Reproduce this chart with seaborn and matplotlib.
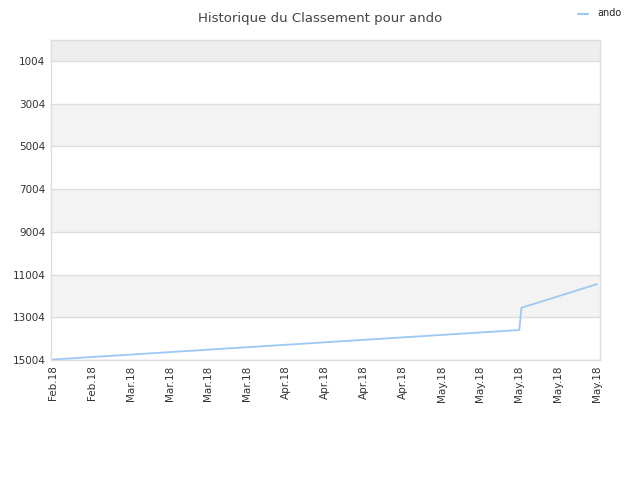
import pandas as pd
import seaborn as sns
import matplotlib.pyplot as plt
import matplotlib.dates as mdates

dates = ["2018-02-21 00:00", "2018-03-21 00:00", "2018-04-18 00:00",
         "2018-05-16 00:00", "2018-05-16 09:00", "2018-05-30 00:00"]
ranks = [14980, 14520, 14060, 13600, 12560, 11450]
player = "ando"
y_ticks = [1004, 3004, 5004, 7004, 9004, 11004, 13004, 15004]
tick_dates = pd.date_range("2018-02-21", "2018-05-30", freq="7D")

df = pd.DataFrame({"date": pd.to_datetime(dates, format="%Y-%m-%d %H:%M"),
                   "rank": ranks, "player": player})

sns.set_style("white")
plt.rcParams["font.family"] = ["DejaVu Sans"]

fig = plt.figure(figsize=(6.4, 4.8), dpi=100)
ax = fig.add_axes([51 / 640, 120 / 480, 549 / 640, 320 / 480])

# alternating bands
ax.axhspan(20, 1004, color="#eeeeee", zorder=0, lw=0)
for i in range(len(y_ticks) - 1):
    if i % 2 == 1:
        ax.axhspan(y_ticks[i], y_ticks[i + 1], color="#f3f3f3", zorder=0, lw=0)

sns.lineplot(data=df, x="date", y="rank", hue="player", palette=["#9cc8f4"],
             linewidth=1.3, ax=ax, legend=False, zorder=3)

ax.set_ylim(15004, 20)
ax.set_yticks(y_ticks)
ax.set_yticklabels([str(t) for t in y_ticks])
ax.set_xlim(pd.Timestamp("2018-02-20 15:00"), pd.Timestamp("2018-05-30 13:00"))
ax.set_xticks(tick_dates)
ax.xaxis.set_major_formatter(mdates.DateFormatter("%b.%y"))
plt.setp(ax.get_xticklabels(), rotation=90)

for t in y_ticks:
    ax.axhline(t, color="#dddddd", lw=1, zorder=1)

ax.tick_params(axis="both", length=0, labelsize=7.5, labelcolor="#333333", pad=4)
for s in ax.spines.values():
    s.set_color("#dddddd")
    s.set_linewidth(1)

ax.set_xlabel("")
ax.set_ylabel("")
fig.text(0.5, 0.975, "Historique du Classement pour ando", ha="center", va="top",
         fontsize=9.5, color="#444444")

# legend
fig.lines.append(plt.Line2D([578 / 640, 588 / 640], [1 - 14 / 480, 1 - 14 / 480],
                            color="#9cc8f4", lw=1.5, transform=fig.transFigure))
fig.text(597 / 640, 1 - 13 / 480, player, ha="left", va="center", fontsize=7, color="#222222")

fig.savefig("out.png", dpi=100)
